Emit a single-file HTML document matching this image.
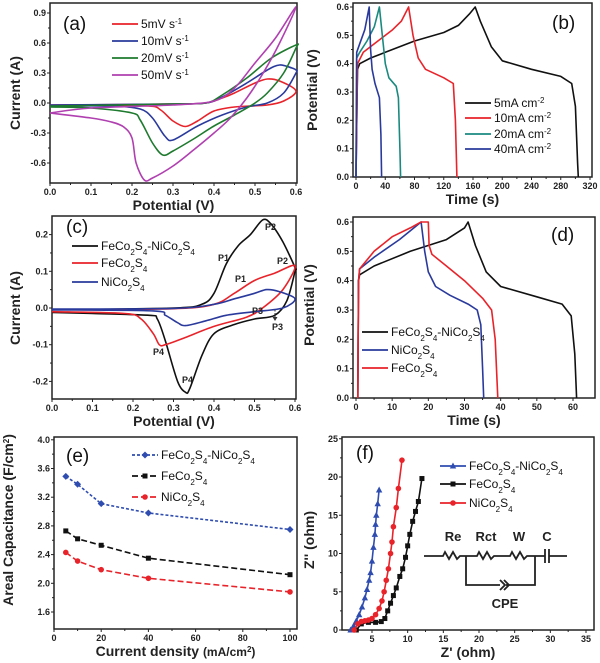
<!DOCTYPE html>
<html><head><meta charset="utf-8">
<style>
body{margin:0;background:#fff}
svg{display:block;font-family:"Liberation Sans",Arial,sans-serif}
.tk{font-size:9px;font-weight:bold;fill:#222}
.at{font-size:14px;font-weight:bold;fill:#222}
.lg{font-size:12px;fill:#111}
.pl{font-size:19px;fill:#111}
</style></head>
<body>
<svg id="fig" width="600" height="663" viewBox="0 0 600 663"></svg>
<script>
// ---- Panel (a) CV data [potential V, current A]
const aRed=[[0,-0.02],[0.2,-0.015],[0.3,-0.01],[0.38,0],[0.42,0.05],[0.45,0.1],[0.5,0.2],[0.53,0.24],[0.56,0.22],[0.6,0.12],[0.57,0.02],[0.53,-0.02],[0.45,-0.04],[0.4,-0.08],[0.36,-0.18],[0.33,-0.235],[0.3,-0.18],[0.27,-0.07],[0.24,-0.03],[0.1,-0.02],[0,-0.02]];
const aBlue=[[0,-0.02],[0.3,-0.01],[0.38,0],[0.42,0.06],[0.48,0.2],[0.53,0.33],[0.56,0.38],[0.59,0.35],[0.6,0.33],[0.6,0.3],[0.57,0.1],[0.53,0],[0.48,-0.04],[0.42,-0.12],[0.36,-0.23],[0.3,-0.37],[0.28,-0.33],[0.25,-0.15],[0.22,-0.06],[0.15,-0.03],[0,-0.03]];
const aGreen=[[0,-0.03],[0.3,-0.01],[0.38,0],[0.42,0.08],[0.48,0.25],[0.54,0.45],[0.6,0.58],[0.6,0.55],[0.57,0.3],[0.53,0.1],[0.5,0],[0.45,-0.12],[0.4,-0.23],[0.35,-0.36],[0.3,-0.48],[0.275,-0.52],[0.25,-0.4],[0.22,-0.17],[0.2,-0.1],[0.1,-0.05],[0,-0.04]];
const aMag=[[0,-0.1],[0.1,-0.05],[0.3,-0.02],[0.4,0.02],[0.45,0.15],[0.5,0.4],[0.55,0.65],[0.6,0.96],[0.56,0.6],[0.52,0.3],[0.48,0.05],[0.44,-0.15],[0.4,-0.3],[0.35,-0.47],[0.3,-0.63],[0.25,-0.75],[0.23,-0.77],[0.21,-0.6],[0.2,-0.35],[0.18,-0.24],[0.15,-0.19],[0.1,-0.15],[0,-0.1]];
// ---- Panel (b) GCD [time s, potential V]
const b5=[[0,0],[2,0.38],[5,0.4],[20,0.42],[40,0.44],[80,0.48],[120,0.51],[140,0.535],[155,0.575],[163,0.6],[170,0.55],[185,0.46],[200,0.41],[240,0.38],[280,0.355],[295,0.33],[300,0.25],[303,0.05],[304,0]];
const b10=[[0,0],[2,0.4],[10,0.44],[30,0.48],[50,0.52],[62,0.55],[72,0.6],[78,0.5],[85,0.42],[95,0.38],[120,0.35],[133,0.33],[136,0.2],[138,0]];
const b20=[[0,0],[1,0.42],[5,0.44],[15,0.48],[25,0.53],[32,0.6],[36,0.5],[40,0.4],[45,0.35],[55,0.32],[58,0.28],[60,0.1],[61,0]];
const b40=[[0,0],[1,0.44],[5,0.47],[12,0.52],[18,0.6],[20,0.45],[22,0.38],[26,0.33],[32,0.28],[34,0.15],[35,0]];
// ---- Panel (c) CV comparison
const cFN=[[0,-0.005],[0.3,0],[0.37,0.01],[0.4,0.04],[0.43,0.12],[0.46,0.17],[0.49,0.2],[0.52,0.24],[0.54,0.23],[0.57,0.18],[0.6,0.11],[0.6,0.1],[0.58,0.02],[0.55,-0.02],[0.5,-0.03],[0.45,-0.045],[0.4,-0.07],[0.37,-0.13],[0.34,-0.22],[0.33,-0.23],[0.31,-0.2],[0.28,-0.09],[0.26,-0.03],[0.24,-0.02],[0.1,-0.015],[0,-0.012]];
const cFe=[[0,-0.005],[0.3,-0.002],[0.4,0.01],[0.45,0.04],[0.5,0.075],[0.55,0.095],[0.6,0.115],[0.57,0.05],[0.52,0],[0.48,-0.025],[0.4,-0.05],[0.33,-0.08],[0.28,-0.1],[0.265,-0.1],[0.25,-0.07],[0.22,-0.03],[0.18,-0.015],[0,-0.01]];
const cNi=[[0,-0.003],[0.3,-0.001],[0.4,0.01],[0.45,0.025],[0.5,0.04],[0.53,0.05],[0.56,0.045],[0.6,0.025],[0.57,0],[0.5,-0.01],[0.43,-0.02],[0.38,-0.035],[0.33,-0.048],[0.31,-0.04],[0.28,-0.02],[0.25,-0.008],[0,-0.005]];
// ---- Panel (d) GCD comparison
const dFN=[[0.5,0],[0.7,0.4],[1,0.42],[5,0.45],[15,0.5],[25,0.54],[30,0.58],[31,0.6],[33,0.52],[36,0.43],[40,0.38],[50,0.345],[57,0.32],[59.5,0.28],[60.5,0.15],[61,0]];
const dNi=[[0.5,0],[0.7,0.4],[1,0.44],[5,0.48],[12,0.54],[16,0.58],[18,0.6],[19,0.5],[20,0.43],[22,0.38],[26,0.35],[31,0.32],[33.5,0.3],[34.5,0.25],[35,0.1],[35.3,0]];
const dFe=[[0.5,0],[0.7,0.39],[1,0.44],[5,0.5],[10,0.55],[15,0.58],[18,0.6],[20,0.6],[20.2,0.52],[21,0.49],[25,0.45],[30,0.4],[35,0.34],[37.5,0.3],[38.5,0.2],[39.2,0]];
// ---- Panel (e) areal capacitance
const eX=[5,10,20,40,100];
const eFN=[3.49,3.38,3.11,2.98,2.75];
const eFe=[2.73,2.62,2.53,2.35,2.12];
const eNi=[2.43,2.31,2.19,2.07,1.88];
// ---- Panel (f) Nyquist [Z', Z'']
const fFN=[[2.0,0],[2.4,0.5],[2.8,1.2],[3.2,2],[3.6,3],[4,4.2],[4.3,5.3],[4.6,6.5],[4.8,7.5],[5.0,9],[5.2,10.8],[5.4,12.5],[5.5,13.8],[5.6,15],[5.8,16.5],[6.0,18.3]];
const fNi=[[2.5,0],[3,0.8],[3.5,1.1],[4,1.2],[4.5,1.3],[5,1.5],[5.5,2],[6,2.8],[6.4,3.8],[6.7,5],[7,6.5],[7.3,8],[7.6,10],[7.8,11.5],[8,13.5],[8.4,16],[8.7,18.5],[9.2,22.2]];
const fFe=[[2.8,0],[3.5,0.8],[4.5,1.0],[5.5,1.0],[6.3,1.1],[6.8,1.5],[7.2,2.5],[7.6,3.5],[8,4.5],[8.4,5.5],[8.9,7],[9.3,8],[9.7,9.5],[10,11],[10.3,12.5],[10.7,14.2],[11.1,15.5],[11.5,16.8],[12,19.8]];
// tick label arrays
const aXT=["0.0","0.1","0.2","0.3","0.4","0.5","0.6"], aYT=[-0.6,-0.3,0,0.3,0.6,0.9];
const bXT=[0,40,80,120,160,200,240,280,320], bYT=[0,0.1,0.2,0.3,0.4,0.5,0.6];
const cYT=[-0.2,-0.1,0,0.1,0.2];
const dXT=[0,10,20,30,40,50,60], dYT=[0,0.1,0.2,0.3,0.4,0.5,0.6];
const eXT=[0,20,40,60,80,100], eYT=[1.6,2.0,2.4,2.8,3.2,3.6,4.0];
const fXT=[5,10,15,20,25,30,35], fYT=[0,5,10,15,20,25];

const NS="http://www.w3.org/2000/svg", svg=document.getElementById('fig');
function el(tag,attrs,parent,text){const e=document.createElementNS(NS,tag);for(const k in attrs)e.setAttribute(k,attrs[k]);if(text!==undefined)e.textContent=text;(parent||svg).appendChild(e);return e;}
function lin(d0,d1,r0,r1){return v=>r0+(v-d0)*(r1-r0)/(d1-d0);}

function panel(name,fr,sx,sy,xt,yt,xfmt,yfmt,xtitle,ytitle,ytx,yty){
  const g=el('g',{});
  
  
  const fm=el('rect',{x:fr[0],y:fr[1],width:fr[2]-fr[0],height:fr[3]-fr[1],fill:'none',stroke:'#222','stroke-width':1.5},g);
  
  
  xt.forEach((t,i)=>{const v=+t,x=sx(v);
    el('line',{x1:x,x2:x,y1:fr[3],y2:fr[3]+3,stroke:'#222','stroke-width':1},g);
    const tx=el('text',{x:x,y:fr[3]+12,'text-anchor':'middle',class:'tk'},g,xfmt(t));
    
    
    if(i<xt.length-1){const m=sx((v+ +xt[i+1])/2);el('line',{x1:m,x2:m,y1:fr[3],y2:fr[3]+2,stroke:'#222'},g);}
  });
  yt.forEach((t,i)=>{const v=+t,y=sy(v);
    el('line',{x1:fr[0]-3,x2:fr[0],y1:y,y2:y,stroke:'#222','stroke-width':1},g);
    const tx=el('text',{x:fr[0]-4,y:y+3,'text-anchor':'end',class:'tk'},g,yfmt(t));
    
    
    if(i<yt.length-1){const m=sy((v+ +yt[i+1])/2);el('line',{x1:fr[0]-2,x2:fr[0],y1:m,y2:m,stroke:'#222'},g);}
  });
  const xtl=el('text',{x:(fr[0]+fr[2])/2,y:fr[3]+27,'text-anchor':'middle',class:'at'},g);
  xtl.innerHTML=xtitle;
  
  
  const ytl=el('text',{x:ytx,y:yty,'text-anchor':'middle',class:'at',transform:`rotate(-90 ${ytx} ${yty})`},g);
  ytl.innerHTML=ytitle;
  
  
  return g;
}
function pathD(P,smooth){
  if(!smooth)return P.map((q,i)=>(i?'L':'M')+q[0].toFixed(1)+','+q[1].toFixed(1)).join('');
  let d='M'+P[0][0].toFixed(1)+','+P[0][1].toFixed(1);
  const k=0.16;
  for(let i=0;i<P.length-1;i++){
    const p0=P[Math.max(0,i-1)],p1=P[i],p2=P[i+1],p3=P[Math.min(P.length-1,i+2)];
    const c1=[p1[0]+(p2[0]-p0[0])*k,p1[1]+(p2[1]-p0[1])*k];
    const c2=[p2[0]-(p3[0]-p1[0])*k,p2[1]-(p3[1]-p1[1])*k];
    d+=`C${c1[0].toFixed(1)},${c1[1].toFixed(1)} ${c2[0].toFixed(1)},${c2[1].toFixed(1)} ${p2[0].toFixed(1)},${p2[1].toFixed(1)}`;
  }
  return d;
}
function curve(g,pts,sx,sy,color,name,dash,smooth){
  const P=pts.map(q=>[sx(q[0]),sy(q[1])]);
  const p=el('path',{d:pathD(P,smooth),fill:'none',stroke:color,'stroke-width':1.6,'stroke-linejoin':'round','stroke-dasharray':dash||'none'},g);
  
  
}
function marker(g,x,y,type,color){
  let m;
  if(type==='sq')m=el('rect',{x:x-2.5,y:y-2.5,width:5,height:5,fill:color},g);
  else if(type==='ci')m=el('circle',{cx:x,cy:y,r:2.8,fill:color},g);
  else if(type==='di')m=el('path',{d:`M${x},${y-3.5}L${x+3.5},${y}L${x},${y+3.5}L${x-3.5},${y}Z`,fill:color},g);
  else m=el('path',{d:`M${x},${y-3.5}L${x+3.2},${y+2.5}L${x-3.2},${y+2.5}Z`,fill:color},g);
  
  
}
function legend(g,x,y,color,label,name,mk,dash){
  const lg=el('g',{},g);
  
  
  el('line',{x1:x,x2:x+26,y1:y,y2:y,stroke:color,'stroke-width':1.8,'stroke-dasharray':dash||'none'},lg);
  if(mk)marker(lg,x+13,y,mk,color);
  const t=el('text',{x:x+29,y:y+4,class:'lg'},lg);t.innerHTML=label;
}
function lbl(g,x,y,txt,name,cls,extra){const t=el('text',Object.assign({x:x,y:y,class:cls||'pl'},extra||{}),g,txt);return t;}
const sub=n=>`<tspan baseline-shift="sub" font-size="8">${n}</tspan>`;
const FN=`FeCo${sub(2)}S${sub(4)}-NiCo${sub(2)}S${sub(4)}`, FE=`FeCo${sub(2)}S${sub(4)}`, NI=`NiCo${sub(2)}S${sub(4)}`;
const sup=n=>`<tspan baseline-shift="super" font-size="8">${n}</tspan>`;
const f1=v=>(+v).toFixed(1), f0=v=>String(v);

// Panel a
{const sx=lin(0,0.6,50,296), sy=lin(0,0.3,103,73);
 const g=panel('panel-a-cv-scan-rates',[50,3,297,183],sx,sy,aXT,aYT,f0,f1,'Potential (V)','Current (A)',20,93);
 curve(g,aRed,sx,sy,'#e8232a','cv-5mv',0,1);curve(g,aBlue,sx,sy,'#2a3a9c','cv-10mv',0,1);curve(g,aGreen,sx,sy,'#1e7a2e','cv-20mv',0,1);curve(g,aMag,sx,sy,'#b040b0','cv-50mv',0,1);
 lbl(g,63,30,'(a)','panel-label-a');
 legend(g,112,24,'#e8232a',' 5mV s'+sup('-1'),'legend-5mv');legend(g,112,41,'#2a3a9c','10mV s'+sup('-1'),'legend-10mv');
 legend(g,112,58,'#1e7a2e','20mV s'+sup('-1'),'legend-20mv');legend(g,112,75,'#b040b0','50mV s'+sup('-1'),'legend-50mv');}
// Panel b
{const sx=lin(0,320,356,590), sy=lin(0,0.6,177,7);
 const g=panel('panel-b-gcd-current-densities',[353,3,592,177],sx,sy,bXT,bYT,f0,f1,'Time (s)','Potential (V)',317,90);
 curve(g,b5,sx,sy,'#111','gcd-5ma');curve(g,b10,sx,sy,'#e8232a','gcd-10ma');curve(g,b20,sx,sy,'#1a8a80','gcd-20ma');curve(g,b40,sx,sy,'#2a3a9c','gcd-40ma');
 lbl(g,552,29,'(b)','panel-label-b');
 legend(g,465,103,'#111',' 5mA cm'+sup('-2'),'legend-5ma');legend(g,465,118,'#e8232a','10mA cm'+sup('-2'),'legend-10ma');
 legend(g,465,134,'#1a8a80','20mA cm'+sup('-2'),'legend-20ma');legend(g,465,149,'#2a3a9c','40mA cm'+sup('-2'),'legend-40ma');}
// Panel c
{const sx=lin(0,0.6,52,295), sy=lin(0,0.1,308,271.3);
 const g=panel('panel-c-cv-comparison',[52,216,296,399],sx,sy,aXT,cYT,f0,f1,'Potential (V)','Current (A)',20,308);
 curve(g,cFN,sx,sy,'#111','cv-fe-ni',0,1);curve(g,cFe,sx,sy,'#e8232a','cv-fe',0,1);curve(g,cNi,sx,sy,'#2a3a9c','cv-ni',0,1);
 lbl(g,66,233,'(c)','panel-label-c');
 legend(g,72,246,'#111',FN,'legend-fe-ni');legend(g,72,263,'#e8232a',FE,'legend-fe');legend(g,72,282,'#2a3a9c',NI,'legend-ni');
 const pk=[[265,230,'P2','#111'],[218,261,'P1','#111'],[182,383,'P4','#111'],[272,330,'P3','#111'],[277,264,'P2','#e8232a'],[235,282,'P1','#e8232a'],[252,314,'P3','#e8232a'],[153,355,'P4','#e8232a']];
 pk.forEach(p=>lbl(g,p[0],p[1],p[2],'peak-label','tk',{fill:p[3]}));
 el('line',{x1:275,x2:275,y1:310,y2:319,stroke:'#333','stroke-dasharray':'1.5,1.5'},g);
 el('path',{d:'M272.5,317L275,321L277.5,317Z',fill:'#333'},g);}
// Panel d
{const sx=lin(0,60,356,573), sy=lin(0,0.6,398,222);
 const g=panel('panel-d-gcd-comparison',[353,217,595,398],sx,sy,dXT,dYT,f0,f1,'Time (s)','Potential (V)',314,305);
 curve(g,dFN,sx,sy,'#111','gcd-fe-ni');curve(g,dNi,sx,sy,'#2a3a9c','gcd-ni');curve(g,dFe,sx,sy,'#e8232a','gcd-fe');
 lbl(g,551,241,'(d)','panel-label-d');
 legend(g,362,332,'#111',FN,'legend-fe-ni');legend(g,362,350,'#2a3a9c',NI,'legend-ni');legend(g,362,368,'#e8232a',FE,'legend-fe');}
// Panel e
{const sx=lin(0,100,54,290), sy=lin(1.6,2.0,612,583.3);
 const g=panel('panel-e-areal-capacitance',[54,437,297,629],sx,sy,eXT,eYT,f0,f1,'Current density <tspan font-size="12">(mA/cm'+sup('2')+')</tspan>','Areal Capacitance (F/cm'+sup('2')+')',13,520);
 const S=[[eFN,'#2f4db0','di','3,2','line-fe-ni'],[eFe,'#111','sq','6,3','line-fe'],[eNi,'#e8232a','ci','6,3','line-ni']];
 S.forEach(s=>{curve(g,eX.map((x,i)=>[x,s[0][i]]),sx,sy,s[1],s[4],s[3]);eX.forEach((x,i)=>marker(g,sx(x),sy(s[0][i]),s[2],s[1]));});
 lbl(g,66,462,'(e)','panel-label-e');
 legend(g,132,455,'#2f4db0',FN,'legend-fe-ni','di','3,2');legend(g,132,476,'#111',FE,'legend-fe','sq','6,3');legend(g,132,497,'#e8232a',NI,'legend-ni','ci','6,3');}
// Panel f
{const sx=lin(5,35,372,586), sy=lin(0,20,630,477);
 const g=panel('panel-f-nyquist',[342,437,594,630],sx,sy,fXT,fYT,f0,f0,"Z' (ohm)","Z'' (ohm)",314,540);
 const S=[[fFN,'#2f4db0','tr','nyquist-fe-ni'],[fFe,'#111','sq','nyquist-fe'],[fNi,'#e8232a','ci','nyquist-ni']];
 S.forEach(s=>{curve(g,s[0],sx,sy,s[1],s[3]);s[0].forEach(q=>marker(g,sx(q[0]),sy(q[1]),s[2],s[1]));});
 lbl(g,356,459,'(f)','panel-label-f');
 legend(g,440,466,'#2f4db0',FN,'legend-fe-ni','tr');legend(g,440,484,'#111',FE,'legend-fe','sq');legend(g,440,503,'#e8232a',NI,'legend-ni','ci');
 const c=el('g',{stroke:'#222','stroke-width':1.8,fill:'none'},g);
 
 
 const zz=(x0)=>{let d=`M${x0},556`;for(let i=0;i<4;i++)d+=`L${x0+2+i*4},${i%2?559:552}`;return d+`L${x0+17},556`;};
 el('path',{d:`M424,556L443,556${zz(443).replace('M','L')}L477,556${zz(477).replace('M','L')}L510,556${zz(510).replace('M','L')}L545,556M549,556L567,556M545,549L545,563M549,549L549,563M466,556L466,585L500,585M506,585L535,585L535,556M500,580L505,585L500,590M504,580L509,585L504,590`},c);
 lbl(g,453,541,'Re','circuit-re','at',{'text-anchor':'middle',style:'font-size:13px'});
 lbl(g,486,541,'Rct','circuit-rct','at',{'text-anchor':'middle',style:'font-size:13px'});
 lbl(g,519,541,'W','circuit-w','at',{'text-anchor':'middle',style:'font-size:13px'});
 lbl(g,547,541,'C','circuit-c','at',{'text-anchor':'middle',style:'font-size:13px'});
 lbl(g,505,608,'CPE','circuit-cpe','at',{'text-anchor':'middle',style:'font-size:13px'});}
</script>
</body></html>
